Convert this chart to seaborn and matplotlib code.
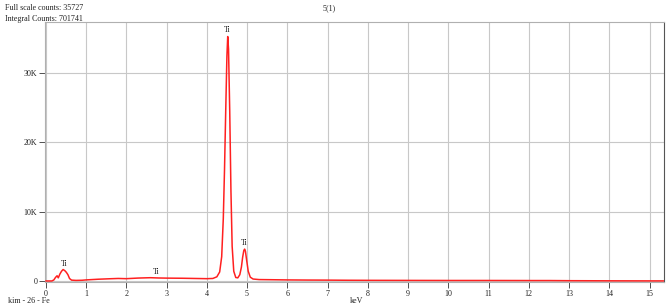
import matplotlib
matplotlib.use("Agg")
import matplotlib.pyplot as plt
import seaborn as sns
import pandas as pd

# Spectrum points
kev = [0.00, 0.15, 0.20, 0.24, 0.28, 0.31, 0.35, 0.39, 0.43, 0.47, 0.51, 0.55, 0.59, 0.64,
       0.75, 0.90, 1.00, 1.30, 1.60, 1.80, 2.00, 2.30, 2.60, 2.80, 3.00, 3.40, 3.80, 4.00,
       4.15, 4.25, 4.32, 4.37, 4.41, 4.44, 4.47, 4.50, 4.52, 4.54, 4.57, 4.60, 4.63, 4.67,
       4.72, 4.77, 4.82, 4.86, 4.89, 4.92, 4.94, 4.96, 4.99, 5.03, 5.08, 5.15, 5.30, 5.60,
       6.00, 6.50, 7.00, 7.50, 8.00, 9.00, 10.0, 11.0, 12.0, 12.5, 13.0, 13.5, 14.0, 15.0, 15.35]
counts = [0, 0, 150, 500, 750, 450, 1000, 1400, 1650, 1500, 1250, 900, 350, 120,
          80, 100, 150, 250, 320, 360, 330, 420, 470, 430, 410, 390, 350, 330,
          360, 600, 1300, 3500, 9000, 16000, 24500, 32500, 35300, 33500, 24500, 13000, 5000, 1400,
          500, 450, 900, 2000, 3400, 4400, 4600, 4300, 3000, 1400, 550, 280, 200, 180,
          150, 130, 120, 100, 90, 80, 70, 70, 60, 60, 40, 30, 20, 10, 10]

peak_x = [0.45, 2.75, 4.52, 4.94]
peak_y = [1900, 650, 35700, 4900]
peak_lbl = ["Ti", "Ti", "Ti", "Ti"]

x_ticks = list(range(0, 16))
y_ticks = [0, 10000, 20000, 30000]
y_tick_lbl = ["0", "10K", "20K", "30K"]

df = pd.DataFrame({"keV": kev, "counts": counts})

sns.set_style("white")
plt.rcParams["font.family"] = ["Liberation Serif", "DejaVu Serif"]
fs = 5.8

fig = plt.figure(figsize=(6.72, 3.08), dpi=100)
ax = fig.add_axes([45 / 672, 26 / 308, 619 / 672, 260 / 308])

sns.lineplot(data=df, x="keV", y="counts", color="#ff2020", linewidth=1.1, ax=ax, zorder=3)

for px, py, lb in zip(peak_x, peak_y, peak_lbl):
    ax.text(px, py, lb, ha="center", va="bottom", fontsize=fs, color="#222222")

ax.set_xlim(-0.02, 15.36)
ax.set_ylim(-150, 37400)
ax.set_xticks(x_ticks)
ax.set_xticklabels([str(t) for t in x_ticks])
ax.set_yticks(y_ticks)
ax.set_yticklabels(y_tick_lbl)
ax.tick_params(axis="both", labelsize=fs, length=4, width=0.6, color="#333333", pad=1.5,
               colors="#222222", direction="out", bottom=True, left=True)
ax.grid(True, color="#c8c8c8", linewidth=0.8)
ax.set_axisbelow(True)
for s in ax.spines.values():
    s.set_color("#b0b0b0")
    s.set_linewidth(0.8)
ax.spines["right"].set_color("#555555")
ax.set_xlabel("")
ax.set_ylabel("")

fig.text(5 / 672, 1 - 8 / 308, "Full scale counts: 35727", fontsize=fs, va="center", color="#222222")
fig.text(5 / 672, 1 - 19 / 308, "Integral Counts: 701741", fontsize=fs, va="center", color="#222222")
fig.text(323 / 672, 1 - 8 / 308, "5(1)", fontsize=fs, va="center", color="#222222")
fig.text(8 / 672, 1 - 301 / 308, "kim - 26 - Fe", fontsize=fs, va="center", color="#222222")
fig.text(350 / 672, 1 - 301 / 308, "keV", fontsize=fs, va="center", color="#222222")

fig.savefig("out.png", dpi=100)
